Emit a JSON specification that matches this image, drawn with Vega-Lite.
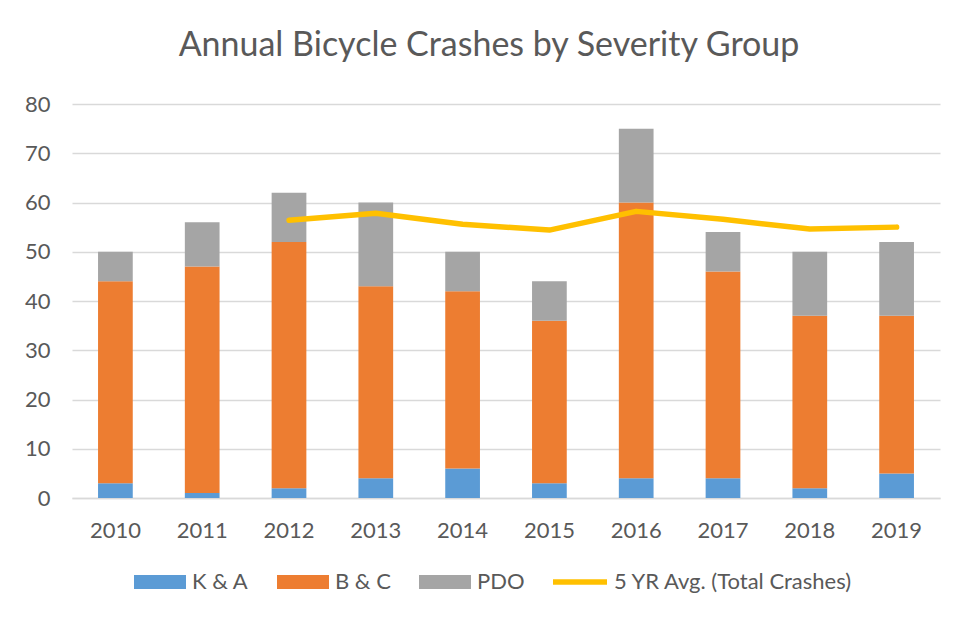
{
  "$schema": "https://vega.github.io/schema/vega-lite/v6.json",
  "width": 868,
  "height": 394,
  "autosize": {"type": "none"},
  "padding": {"left": 72, "top": 104, "right": 13, "bottom": 122},
  "background": "white",
  "title": {
    "text": "Annual Bicycle Crashes by Severity Group",
    "font": "Lato",
    "fontSize": 34,
    "fontWeight": "normal",
    "color": "#595959",
    "anchor": "middle",
    "dx": -17,
    "offset": 30
  },
  "config": {
    "view": {"stroke": null},
    "font": "Lato",
    "axis": {
      "labelFont": "Lato",
      "labelColor": "#595959",
      "labelFontSize": 22,
      "title": null,
      "ticks": false,
      "gridColor": "#D9D9D9",
      "gridWidth": 1.5
    },
    "legend": {
      "labelFont": "Lato",
      "labelFontSize": 22,
      "labelColor": "#595959",
      "labelLimit": 0,
      "title": null
    }
  },
  "datasets": {
    "bars": [
      {"Year": "2010", "Severity": "K & A", "Order": 1, "Crashes": 3},
      {"Year": "2010", "Severity": "B & C", "Order": 2, "Crashes": 41},
      {"Year": "2010", "Severity": "PDO", "Order": 3, "Crashes": 6},
      {"Year": "2011", "Severity": "K & A", "Order": 1, "Crashes": 1},
      {"Year": "2011", "Severity": "B & C", "Order": 2, "Crashes": 46},
      {"Year": "2011", "Severity": "PDO", "Order": 3, "Crashes": 9},
      {"Year": "2012", "Severity": "K & A", "Order": 1, "Crashes": 2},
      {"Year": "2012", "Severity": "B & C", "Order": 2, "Crashes": 50},
      {"Year": "2012", "Severity": "PDO", "Order": 3, "Crashes": 10},
      {"Year": "2013", "Severity": "K & A", "Order": 1, "Crashes": 4},
      {"Year": "2013", "Severity": "B & C", "Order": 2, "Crashes": 39},
      {"Year": "2013", "Severity": "PDO", "Order": 3, "Crashes": 17},
      {"Year": "2014", "Severity": "K & A", "Order": 1, "Crashes": 6},
      {"Year": "2014", "Severity": "B & C", "Order": 2, "Crashes": 36},
      {"Year": "2014", "Severity": "PDO", "Order": 3, "Crashes": 8},
      {"Year": "2015", "Severity": "K & A", "Order": 1, "Crashes": 3},
      {"Year": "2015", "Severity": "B & C", "Order": 2, "Crashes": 33},
      {"Year": "2015", "Severity": "PDO", "Order": 3, "Crashes": 8},
      {"Year": "2016", "Severity": "K & A", "Order": 1, "Crashes": 4},
      {"Year": "2016", "Severity": "B & C", "Order": 2, "Crashes": 56},
      {"Year": "2016", "Severity": "PDO", "Order": 3, "Crashes": 15},
      {"Year": "2017", "Severity": "K & A", "Order": 1, "Crashes": 4},
      {"Year": "2017", "Severity": "B & C", "Order": 2, "Crashes": 42},
      {"Year": "2017", "Severity": "PDO", "Order": 3, "Crashes": 8},
      {"Year": "2018", "Severity": "K & A", "Order": 1, "Crashes": 2},
      {"Year": "2018", "Severity": "B & C", "Order": 2, "Crashes": 35},
      {"Year": "2018", "Severity": "PDO", "Order": 3, "Crashes": 13},
      {"Year": "2019", "Severity": "K & A", "Order": 1, "Crashes": 5},
      {"Year": "2019", "Severity": "B & C", "Order": 2, "Crashes": 32},
      {"Year": "2019", "Severity": "PDO", "Order": 3, "Crashes": 15}
    ],
    "avg": [
      {"Year": "2012", "Series": "5 YR Avg. (Total Crashes)", "Avg": 56.4},
      {"Year": "2013", "Series": "5 YR Avg. (Total Crashes)", "Avg": 57.8},
      {"Year": "2014", "Series": "5 YR Avg. (Total Crashes)", "Avg": 55.6},
      {"Year": "2015", "Series": "5 YR Avg. (Total Crashes)", "Avg": 54.4},
      {"Year": "2016", "Series": "5 YR Avg. (Total Crashes)", "Avg": 58.2},
      {"Year": "2017", "Series": "5 YR Avg. (Total Crashes)", "Avg": 56.6},
      {"Year": "2018", "Series": "5 YR Avg. (Total Crashes)", "Avg": 54.6},
      {"Year": "2019", "Series": "5 YR Avg. (Total Crashes)", "Avg": 55.0}
    ]
  },
  "encoding": {
    "x": {
      "field": "Year",
      "type": "nominal",
      "scale": {"domain": ["2010","2011","2012","2013","2014","2015","2016","2017","2018","2019"], "paddingInner": 0.6, "paddingOuter": 0.3},
      "axis": {"labelAngle": 0, "labelPadding": 22, "domainColor": "#D9D9D9", "domainWidth": 1.5, "grid": false}
    }
  },
  "layer": [
    {
      "data": {"name": "bars"},
      "mark": {"type": "bar"},
      "encoding": {
        "y": {
          "field": "Crashes",
          "type": "quantitative",
          "stack": "zero",
          "scale": {"domain": [0, 80]},
          "axis": {"values": [0,10,20,30,40,50,60,70,80], "domain": false, "labelPadding": 22}
        },
        "fill": {
          "field": "Severity",
          "type": "nominal",
          "scale": {"domain": ["K & A", "B & C", "PDO"], "range": ["#5B9BD5", "#ED7D31", "#A5A5A5"]},
          "legend": {
            "orient": "none",
            "direction": "horizontal",
            "legendX": 62,
            "legendY": 452,
            "symbolType": "M-1,-0.27H1V0.27H-1Z",
            "symbolSize": 2704,
            "symbolStrokeWidth": 0,
            "labelOffset": 6,
            "columnPadding": 28
          }
        },
        "order": {"field": "Order", "type": "quantitative"}
      }
    },
    {
      "data": {"name": "avg"},
      "mark": {"type": "line", "strokeWidth": 5.5, "strokeCap": "round", "strokeJoin": "round"},
      "encoding": {
        "y": {"field": "Avg", "type": "quantitative"},
        "stroke": {
          "field": "Series",
          "type": "nominal",
          "scale": {"range": ["#FFC000"]},
          "legend": {
            "orient": "none",
            "legendX": 478,
            "legendY": 448,
            "symbolType": "M-1,0H1",
            "symbolSize": 2916,
            "symbolStrokeWidth": 5.5,
            "labelOffset": 4
          }
        }
      }
    }
  ]
}
